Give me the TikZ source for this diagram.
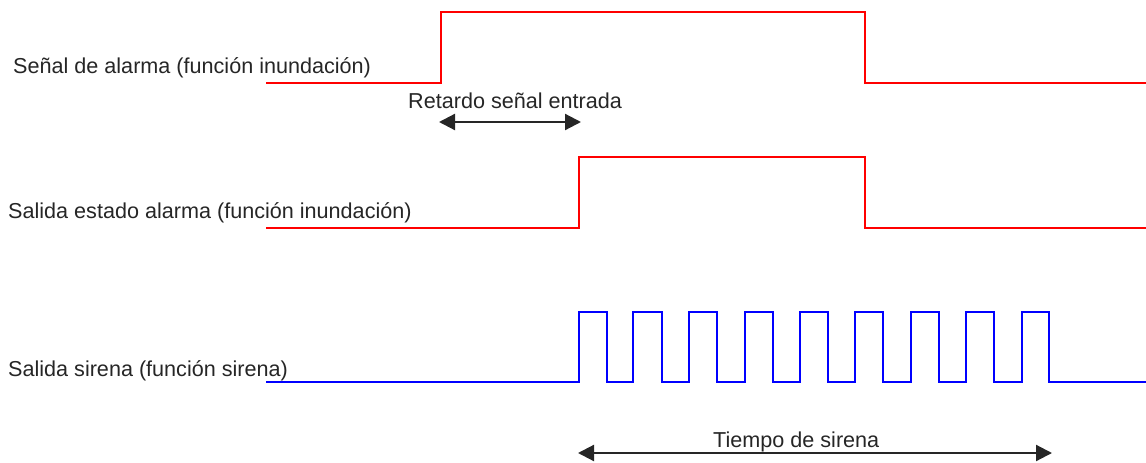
\documentclass[tikz,border=0pt]{standalone}
\usepackage{fontspec}
\setmainfont{Liberation Sans}
\usetikzlibrary{arrows.meta}
\tikzset{
  lbl/.style={inner sep=0pt, anchor=base west, text=black!85, font=\fontsize{21.6}{24}\selectfont},
  redsig/.style={draw=red, line width=2pt, line join=miter},
  bluesig/.style={draw=blue, line width=2pt, line join=miter},
  dim/.style={draw=black!85, line width=2.2pt, {Triangle[length=16pt,width=16pt]}-{Triangle[length=16pt,width=16pt]}}
}
\begin{document}
\begin{tikzpicture}[x=1pt,y=-1pt]
\useasboundingbox (0,0) rectangle (1146,463);
% labels
\node[lbl] (l1) at (13,73) {Señal de alarma (función inundación)};
\node[lbl] (l2) at (8,218) {Salida estado alarma (función inundación)};
\node[lbl] (l3) at (8,376) {Salida sirena (función sirena)};
\node[lbl] (d1) at (408,108) {Retardo señal entrada};
\node[lbl] (d2) at (713,447) {Tiempo de sirena};
% signal 1
\draw[redsig] (266,83) -- (441,83) -- (441,12) -- (865,12) -- (865,83) -- (1146,83);
% signal 2
\draw[redsig] (266,228) -- (579,228) -- (579,157) -- (865,157) -- (865,228) -- (1146,228);
% siren
\draw[bluesig] (266,382)
  \foreach \r/\f in {579/607,633/662,689/717,745/773,800/828,855/883,911/939,966/994,1022/1049}{
    -- (\r,382) -- (\r,312) -- (\f,312) -- (\f,382)
  } -- (1146,382);
% dimension arrows
\coordinate (a1) at (439,122);
\coordinate (b1) at (581,122);
\coordinate (a2) at (578,453);
\coordinate (b2) at (1052,453);
\draw[dim] (a1) -- (b1);
\draw[dim] (a2) -- (b2);
\end{tikzpicture}
\end{document}
